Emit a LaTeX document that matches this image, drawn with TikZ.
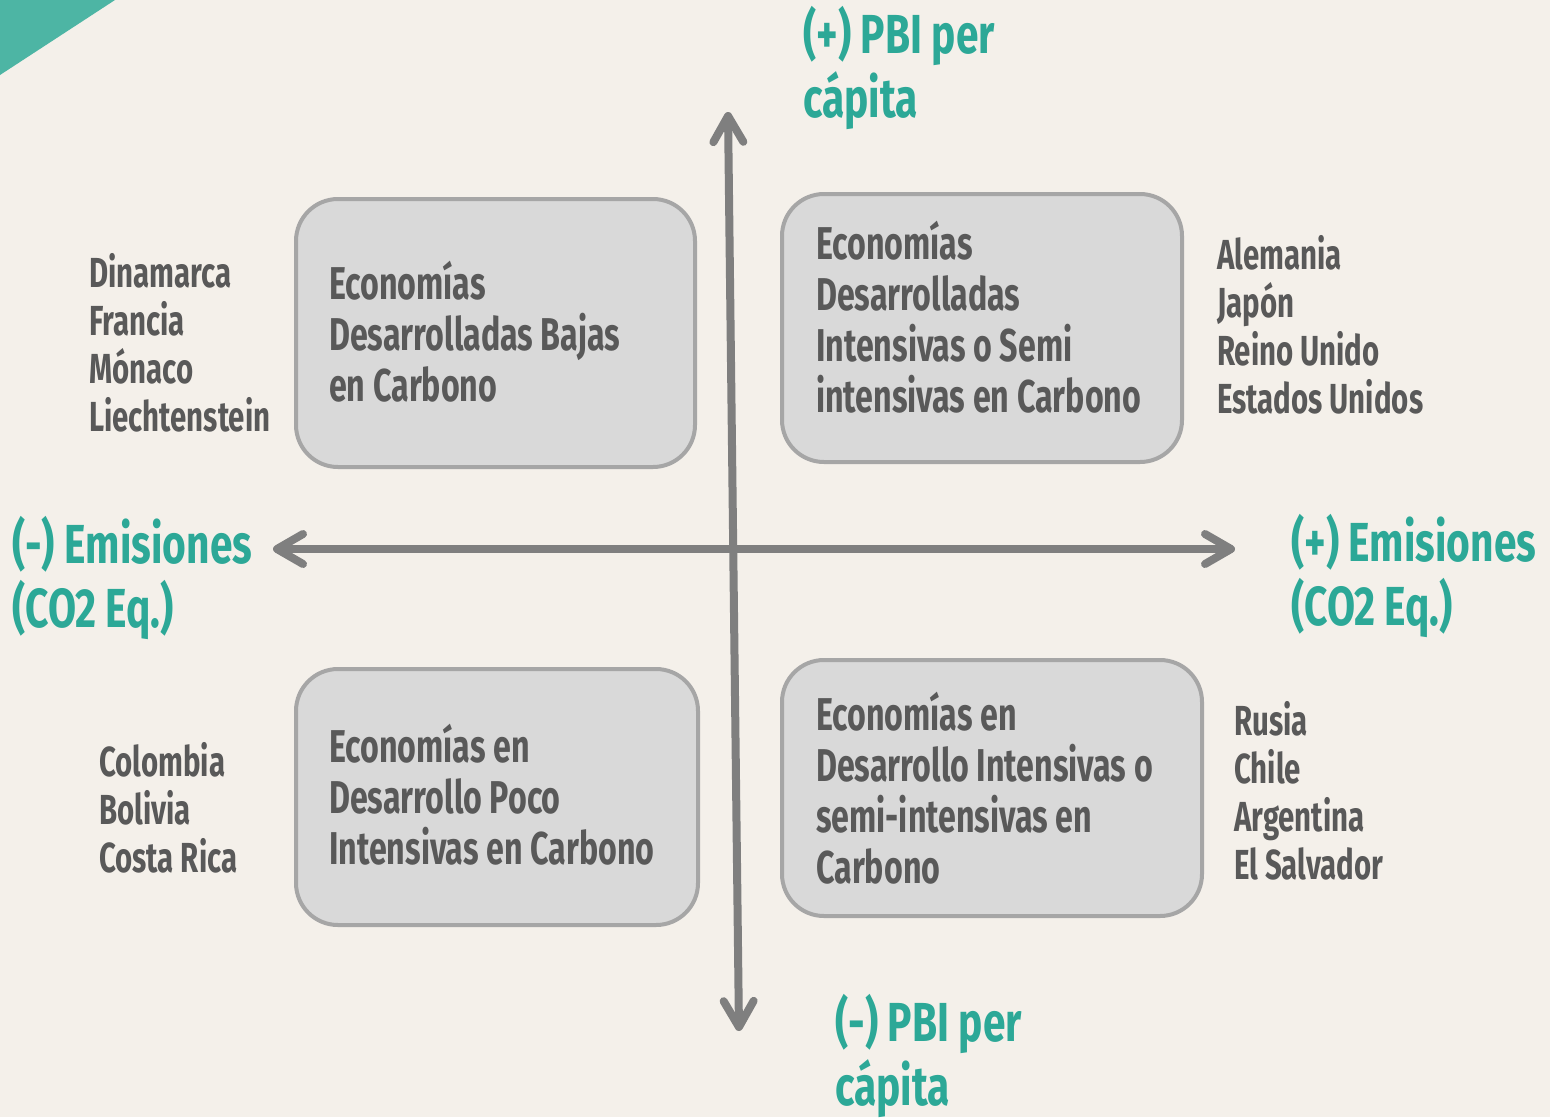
\documentclass[tikz,border=0pt]{standalone}
\usepackage{fontspec}
\setmainfont{Fira Sans}[FakeStretch=0.70]
\newfontfamily\axfont{Fira Sans}[FakeStretch=0.74]
\usetikzlibrary{arrows.meta}
\definecolor{bgc}{HTML}{F4F0EA}
\definecolor{tealtri}{HTML}{4DB5A4}
\definecolor{tealtxt}{HTML}{2CA897}
\definecolor{axisgray}{HTML}{7F7F7F}
\definecolor{boxfill}{HTML}{D9D9D9}
\definecolor{boxline}{HTML}{A6A6A6}
\definecolor{txtgray}{HTML}{595959}
\newcommand\stk[1]{\vtop{\let\\\cr\halign{##\hfil\cr#1\crcr}}}
\begin{document}
\begin{tikzpicture}[x=1pt,y=-1pt,
  qbox/.style={draw=boxline, fill=boxfill, line width=4pt, rounded corners=42pt, inner sep=0pt},
  boxtxt/.style={anchor=base west, inner sep=0pt, text=txtgray, font=\bfseries\fontsize{46}{51}\selectfont},
  ctry/.style={anchor=base west, inner sep=0pt, text=txtgray, font=\bfseries\fontsize{42}{48}\selectfont},
  axlab/.style={anchor=base west, inner sep=0pt, text=tealtxt, font=\axfont\bfseries\fontsize{55}{64}\selectfont},
  axisline/.style={draw=axisgray, line width=8pt, {Straight Barb[length=26pt,width=30pt,round]}-{Straight Barb[length=26pt,width=30pt,round]}}
]
\useasboundingbox (0,0) rectangle (1550,1117);
\fill[bgc] (0,0) rectangle (1550,1117);
\fill[tealtri] (0,0) -- (115,0) -- (0,75) -- cycle;

% boxes
\node[qbox, minimum width=399pt, minimum height=268pt] (b1) at (495.5,333) {};
\node[qbox, minimum width=400pt, minimum height=268pt] (b2) at (982,328) {};
\node[qbox, minimum width=402pt, minimum height=256pt] (b3) at (497,797) {};
\node[qbox, minimum width=420pt, minimum height=256pt] (b4) at (992,788) {};

% axes
\coordinate (top) at (728,112);
\coordinate (bot) at (739,1031);
\coordinate (lft) at (273,549);
\coordinate (rgt) at (1235,549);
\draw[axisline] (lft) -- (rgt);
\draw[axisline] (bot) -- (top);

% box texts
\node[boxtxt] (t1) at (329,299) {\stk{Economías\\Desarrolladas Bajas\\en Carbono}};
\node[boxtxt] (t2) at (816,259) {\stk{Economías\\Desarrolladas\\Intensivas o Semi\\intensivas en Carbono}};
\node[boxtxt] (t3) at (329,762) {\stk{Economías en\\Desarrollo Poco\\Intensivas en Carbono}};
\node[boxtxt] (t4) at (816,730) {\stk{Economías en\\Desarrollo Intensivas o\\semi-intensivas en\\Carbono}};

% countries
\node[ctry] (c1) at (89,287) {\stk{Dinamarca\\Francia\\Mónaco\\Liechtenstein}};
\node[ctry] (c2) at (1217,269) {\stk{Alemania\\Japón\\Reino Unido\\Estados Unidos}};
\node[ctry] (c3) at (99,776) {\stk{Colombia\\Bolivia\\Costa Rica}};
\node[ctry] (c4) at (1234,735) {\stk{Rusia\\Chile\\Argentina\\El Salvador}};

% axis labels
\node[axlab] (lt) at (803,53) {\stk{(+) PBI per\\cápita}};
\node[axlab] (lb) at (835,1041) {\stk{(-) PBI per\\cápita}};
\node[axlab] (ll) at (12,563) {\stk{(-) Emisiones\\(CO2 Eq.)}};
\node[axlab] (lr) at (1291,561) {\stk{(+) Emisiones\\(CO2 Eq.)}};
\end{tikzpicture}
\end{document}
